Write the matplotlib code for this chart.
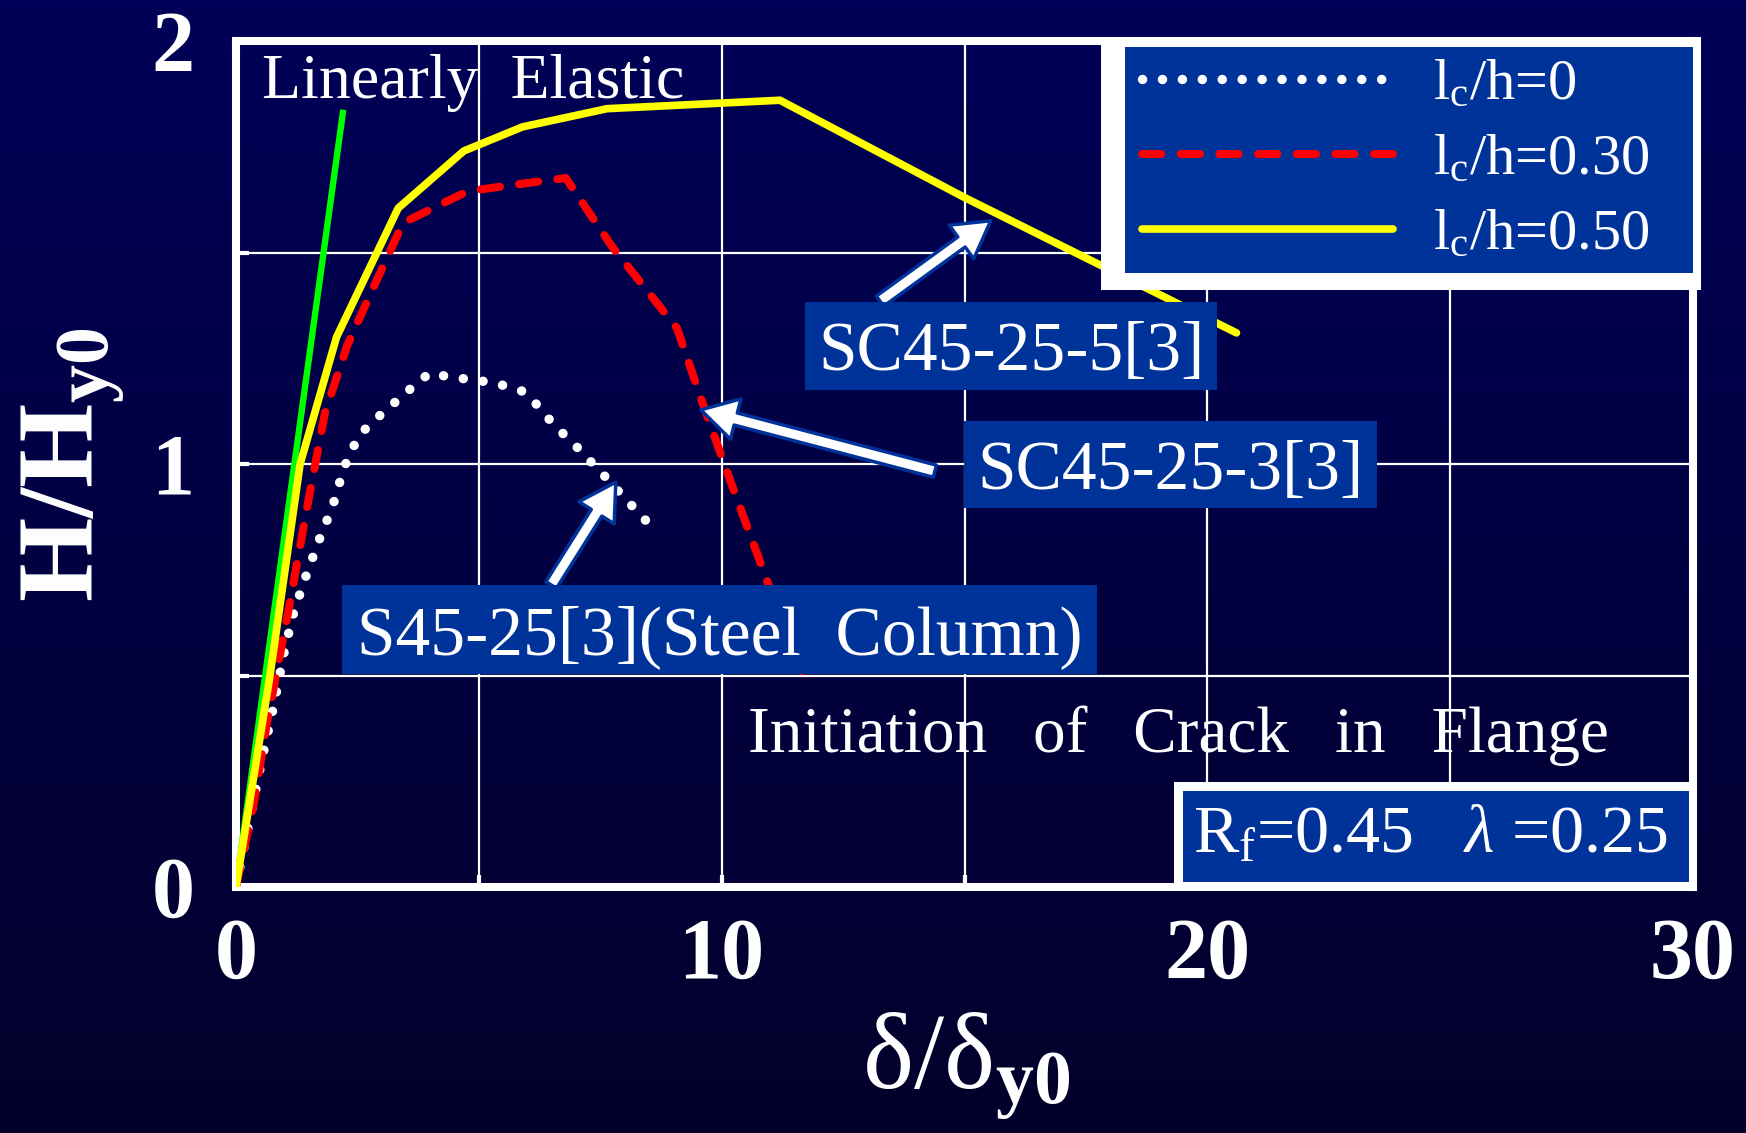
import numpy as np
import matplotlib
matplotlib.use("Agg")
import matplotlib.pyplot as plt
from matplotlib.colors import LinearSegmentedColormap
from matplotlib.patches import Rectangle, FancyArrowPatch

plt.rcParams.update({
    "font.family": ["Liberation Serif", "DejaVu Serif"],
    "mathtext.fontset": "custom",
    "mathtext.rm": "Liberation Serif",
    "mathtext.it": "Liberation Serif:italic",
    "mathtext.bf": "Liberation Serif:bold",
})

# ── data ──────────────────────────────────────────────────────────────
elastic_x = [0.0, 2.2]
elastic_y = [0.0, 1.83]

lc0_x = [0.0, 0.14, 0.31, 0.54, 0.78, 1.0, 1.19, 1.44, 1.71, 1.99, 2.22,
         2.37, 2.55, 2.82, 3.11, 3.42, 3.71, 3.99, 4.39, 4.8, 5.19, 5.58,
         5.95, 6.22, 6.49, 6.75, 7.02, 7.31, 7.57, 7.83, 8.1, 8.38, 8.72]
lc0_y = [0.0, 0.08, 0.175, 0.305, 0.43, 0.56, 0.65, 0.735, 0.82, 0.90, 0.99,
         1.03, 1.07, 1.10, 1.13, 1.16, 1.19, 1.215, 1.206, 1.20, 1.194, 1.184,
         1.17, 1.137, 1.10, 1.07, 1.04, 1.005, 0.974, 0.941, 0.908, 0.873, 0.835]

lc30_x = [0.0, 0.37, 0.64, 1.09, 1.5, 1.83, 2.29, 2.76, 3.44, 4.77, 5.92,
          6.79, 7.75, 9.08, 9.59, 10.16, 10.96, 11.77]
lc30_y = [0.0, 0.20, 0.39, 0.66, 0.92, 1.12, 1.28, 1.40, 1.57, 1.645, 1.663,
          1.676, 1.513, 1.321, 1.15, 0.966, 0.716, 0.479]

lc50_x = [0.0, 0.7, 1.32, 2.07, 3.34, 4.69, 5.9, 7.64, 11.2, 15.0, 20.6]
lc50_y = [0.0, 0.5, 1.0, 1.30, 1.605, 1.74, 1.797, 1.84, 1.86, 1.63, 1.31]

legend_labels = [r"l$_\mathrm{c}$/h=0", r"l$_\mathrm{c}$/h=0.30",
                 r"l$_\mathrm{c}$/h=0.50"]
x_ticks = [0, 10, 20, 30]
y_ticks = [0, 1, 2]

# specimen labels: (text, box x0, x1, y0, y1) in data units
spec_boxes = [
    ("SC45-25-5[3]", 11.72, 20.2, 1.175, 1.383),
    ("SC45-25-3[3]", 14.99, 23.49, 0.896, 1.102),
    ("S45-25[3](Steel  Column)", 2.18, 17.73, 0.504, 0.714),
]
# arrows: (tail, head)
arrows = [((13.26, 1.385), (15.54, 1.575)),
          ((14.39, 0.983), (9.57, 1.128)),
          ((6.49, 0.714), (7.82, 0.957))]

BOX = "#003399"
W, H = 1746, 1133

fig = plt.figure(figsize=(W / 100, H / 100), dpi=100)

# background gradient
bg = fig.add_axes([0, 0, 1, 1], zorder=-5)
cmap = LinearSegmentedColormap.from_list("bg", ["#03002a", "#000058"])
bg.imshow(np.linspace(0, 1, 256)[::-1].reshape(-1, 1), cmap=cmap,
          aspect="auto", extent=[0, 1, 0, 1])
bg.axis("off")

ax = fig.add_axes([236 / W, (H - 887) / H, (1693 - 236) / W, (887 - 41) / H])
ax.set_facecolor("none")
ax.set_xlim(0, 30)
ax.set_ylim(0, 2)

for sp in ax.spines.values():
    sp.set_color("white")
    sp.set_linewidth(5.8)

ax.set_xticks(x_ticks)
ax.set_yticks(y_ticks)
ax.set_xticks([5, 15, 25], minor=True)
ax.set_yticks([0.5, 1.5], minor=True)
ax.grid(True, which="both", color="white", lw=1.6)
ax.set_axisbelow(True)
ax.tick_params(which="both", direction="in", color="white", length=9, width=3)
ax.tick_params(axis="x", labelsize=62, labelcolor="white", pad=22)
ax.tick_params(axis="y", labelsize=62, labelcolor="white", pad=30)
for lab in ax.get_xticklabels() + ax.get_yticklabels():
    lab.set_fontweight("bold")

ax.plot(elastic_x, elastic_y, color="#00ff00", lw=4.6, zorder=3)
l0, = ax.plot(lc0_x, lc0_y, color="white", lw=6.8, ls=(0, (0.01, 2.1)),
              dash_capstyle="round", zorder=3, label=legend_labels[0])
l30, = ax.plot(lc30_x, lc30_y, color="#ff0000", lw=5.8, ls=(0, (2.4, 2.4)),
               dash_capstyle="round", zorder=3, label=legend_labels[1])
l50, = ax.plot(lc50_x, lc50_y, color="#ffff00", lw=5.5,
               solid_capstyle="round", zorder=3, label=legend_labels[2])

# arrows
for tail, head in arrows:
    ax.add_patch(FancyArrowPatch(
        tail, head, arrowstyle="simple,head_length=2.6,head_width=3.0,tail_width=0.9",
        mutation_scale=10, fc="white", ec=BOX, lw=2.5, zorder=4,
        shrinkA=0, shrinkB=0))

# specimen boxes
for text, x0, x1, y0, y1 in spec_boxes:
    ax.add_patch(Rectangle((x0, y0), x1 - x0, y1 - y0, fc=BOX, ec="none",
                           zorder=5))
    ax.text((x0 + x1) / 2, (y0 + y1) / 2 - 0.018, text, ha="center",
            va="center", fontsize=50, color="white", zorder=6)

ax.text(0.535, 1.865, "Linearly  Elastic", fontsize=46, color="white",
        va="baseline", zorder=6)
ax.text(10.54, 0.319, "Initiation  \u2009of  \u2009Crack  \u2009in  \u2009Flange",
        fontsize=47, color="white", va="baseline", zorder=6)

# parameter box, bottom right
ax.add_patch(Rectangle((19.31, 0), 30 - 19.31, 0.248, fc="white", ec="none",
                       zorder=5, clip_on=False))
ax.add_patch(Rectangle((19.5, 0.012), 29.92 - 19.5, 0.227 - 0.012, fc=BOX,
                       ec="none", zorder=5, clip_on=False))
ax.text(19.7, 0.080, r"R$_\mathrm{f}$=0.45   $\lambda$ =0.25", fontsize=49,
        color="white", va="baseline", zorder=6)

# legend box with white offset border
ax.add_patch(Rectangle((17.81, 1.411), 30.16 - 17.81, 2.009 - 1.411,
                       fc="white", ec="none", zorder=7, clip_on=False))
ax.add_patch(Rectangle((18.3, 1.452), 30 - 18.3, 1.986 - 1.452, fc=BOX,
                       ec="none", zorder=7, clip_on=False))
leg = ax.legend(handles=[l0, l30, l50], loc="upper left",
                bbox_to_anchor=(18.65, 1.958), bbox_transform=ax.transData,
                frameon=False, fontsize=42, handlelength=4.3,
                handletextpad=0.69, labelspacing=0.38, borderpad=0,
                borderaxespad=0, labelcolor="white")
leg.set_zorder(8)

fig.text(73 / W, 1 - 465 / H, r"H/H$_{\mathbf{y0}}$", rotation=90,
         ha="center", va="center", fontsize=78, fontweight="bold",
         color="white")
fig.text(966 / W, 1 - 1088 / H, r"δ/δ$_{\mathbf{y0}}$", ha="center",
         va="baseline", fontsize=78, color="white")

fig.savefig("out.png", dpi=100)
